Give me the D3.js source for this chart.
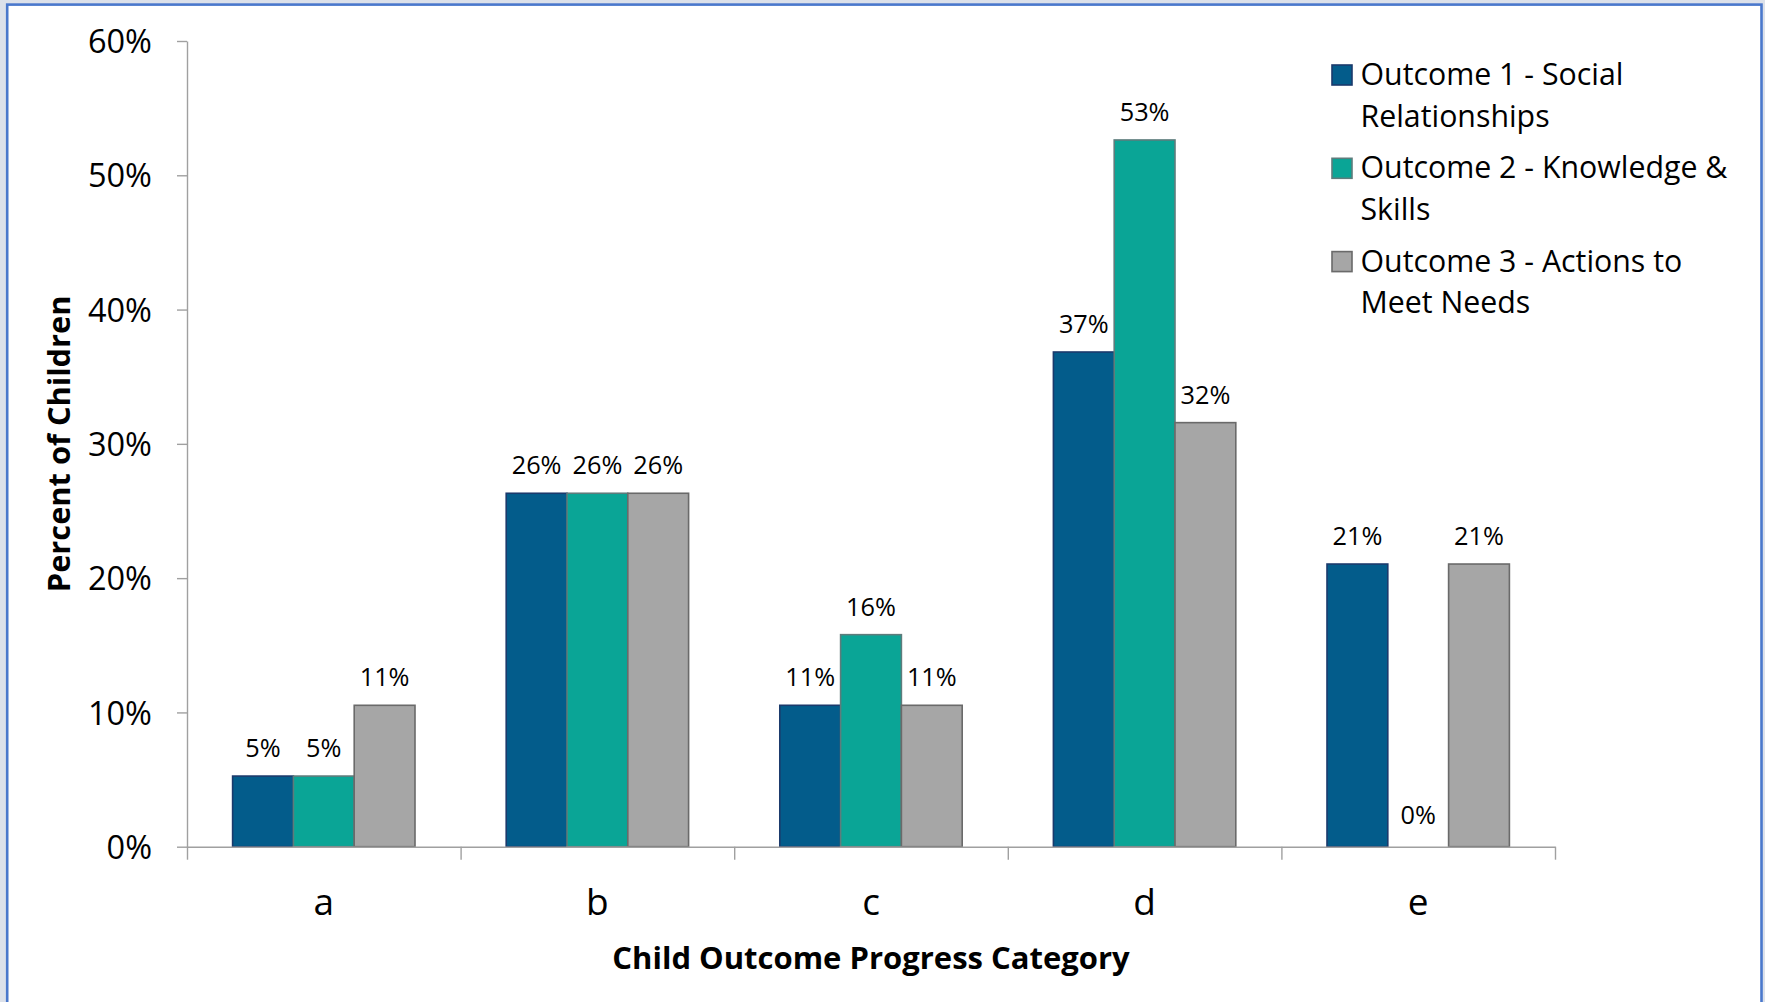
<!DOCTYPE html>
<html>
<head>
<meta charset="utf-8">
<script src="https://cdn.jsdelivr.net/npm/d3@7"></script>
<style>
  html, body { margin: 0; padding: 0; background: #dce1ea; }
  svg { display: block; }
  text { font-family: "Open Sans", "Noto Sans", sans-serif; fill: #000; }
</style>
</head>
<body>
<svg id="chart" width="1765" height="1002"></svg>
<script>
// ---- data ----
const categories = ["a", "b", "c", "d", "e"];
const seriesNames = [
  "Outcome 1 - Social Relationships",
  "Outcome 2 - Knowledge & Skills",
  "Outcome 3 - Actions to Meet Needs"
];
const legendLines = [
  ["Outcome 1 - Social", "Relationships"],
  ["Outcome 2 - Knowledge &", "Skills"],
  ["Outcome 3 - Actions to", "Meet Needs"]
];
const outcome1 = [0.0526, 0.2632, 0.1053, 0.3684, 0.2105];
const outcome2 = [0.0526, 0.2632, 0.1579, 0.5263, 0.0000];
const outcome3 = [0.1053, 0.2632, 0.1053, 0.3158, 0.2105];
const yTicks = [0, 0.1, 0.2, 0.3, 0.4, 0.5, 0.6];
const yTitle = "Percent of Children";
const xTitle = "Child Outcome Progress Category";

const seriesValues = [outcome1, outcome2, outcome3];
const fills = ["#035c8b", "#0aa596", "#a6a6a6"];
const strokes = ["#1b3a6c", "#5e7c7c", "#6a6a6a"];

const svg = d3.select("#chart");

// frame
svg.append("rect").attr("x", 7.2).attr("y", 4.6).attr("width", 1754.3).attr("height", 1100)
  .attr("fill", "#ffffff").attr("stroke", "#4a78cc").attr("stroke-width", 2.6);

const pLeft = 187, pRight = 1555, pTop = 41, pBottom = 846.7;

const x = d3.scaleBand().domain(categories).range([pLeft, pRight]).paddingInner(0).paddingOuter(0);
const bw = x.bandwidth();
const xSub = d3.scaleBand().domain(d3.range(seriesNames.length)).range([bw / 6, bw * 5 / 6]);
const y = d3.scaleLinear().domain([0, 0.6]).range([pBottom, pTop]);

const rows = [];
categories.forEach((c, ci) => {
  seriesValues.forEach((vals, si) => rows.push({ c, si, v: vals[ci] }));
});

// bars
svg.append("g").selectAll("rect").data(rows.filter(d => d.v > 0)).join("rect")
  .attr("x", d => x(d.c) + xSub(d.si))
  .attr("y", d => y(d.v))
  .attr("width", xSub.bandwidth())
  .attr("height", d => y(0) - y(d.v))
  .attr("fill", d => fills[d.si])
  .attr("stroke", d => strokes[d.si])
  .attr("stroke-width", 1.6);

// y axis
const yAxis = svg.append("g").attr("transform", `translate(${pLeft},0)`)
  .call(d3.axisLeft(y).tickValues(yTicks).tickFormat(d3.format(".0%"))
    .tickSize(10).tickSizeOuter(0).tickPadding(25));
yAxis.selectAll("path, line").attr("stroke", "#a0a0a0").attr("stroke-width", 1.4);
yAxis.selectAll("text").attr("font-size", 32.5).attr("dy", "0.36em")
  .style("font-family", "'Open Sans', sans-serif");

// x axis: boundary ticks
const xb = d3.scaleLinear().domain([0, categories.length]).range([pLeft, pRight]);
const xAxisTicks = svg.append("g").attr("transform", `translate(0,${pBottom})`)
  .call(d3.axisBottom(xb).tickValues(d3.range(categories.length + 1)).tickFormat("")
    .tickSize(13).tickSizeOuter(0));
xAxisTicks.selectAll("path, line").attr("stroke", "#a0a0a0").attr("stroke-width", 1.4);

// x axis: category labels
const xAxisLabels = svg.append("g").attr("transform", `translate(0,${pBottom})`)
  .call(d3.axisBottom(x).tickSize(0).tickPadding(42));
xAxisLabels.select("path").remove();
xAxisLabels.selectAll("text").attr("font-size", 37)
  .style("font-family", "'Open Sans', sans-serif");

// data labels
svg.append("g").selectAll("text").data(rows).join("text")
  .attr("x", d => x(d.c) + xSub(d.si) + xSub.bandwidth() / 2)
  .attr("y", d => y(d.v) - (d.v > 0 ? 19 : 23))
  .attr("text-anchor", "middle")
  .attr("font-size", 25.3)
  .text(d => d3.format(".0%")(d.v));

// axis titles
svg.append("text")
  .attr("x", (pLeft + pRight) / 2).attr("y", 969)
  .attr("text-anchor", "middle").attr("font-size", 31).attr("font-weight", "bold")
  .text(xTitle);
svg.append("text")
  .attr("transform", `translate(70,${(pTop + pBottom) / 2}) rotate(-90)`)
  .attr("text-anchor", "middle").attr("font-size", 30.8).attr("font-weight", "bold")
  .text(yTitle);

// legend
const lg = svg.append("g").attr("transform", "translate(1332,65)");
const item = lg.selectAll("g").data(legendLines).join("g")
  .attr("transform", (d, i) => `translate(0,${i * 93.3})`);
item.append("rect").attr("width", 20).attr("height", 20)
  .attr("fill", (d, i) => fills[i]).attr("stroke", (d, i) => strokes[i]).attr("stroke-width", 1.6);
item.each(function(lines) {
  const g = d3.select(this);
  lines.forEach((ln, j) => {
    g.append("text").attr("x", 28.5).attr("y", 20 + j * 41.7)
      .attr("font-size", 30.3).text(ln);
  });
});
</script>
</body>
</html>
